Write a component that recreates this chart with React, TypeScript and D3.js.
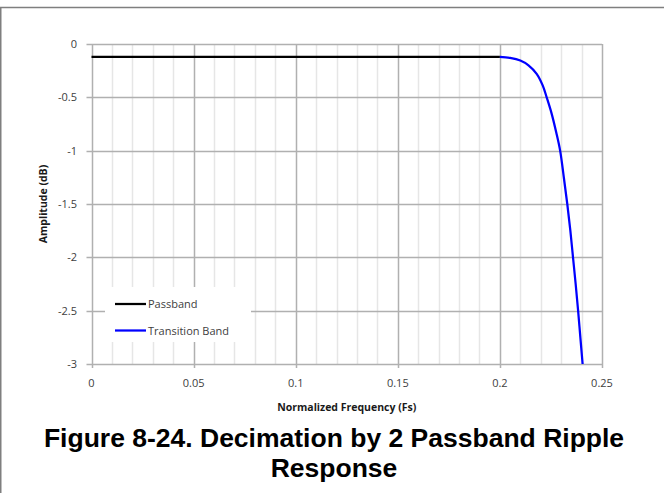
import React from "react";
import * as d3 from "d3";

const passbandFreq = [0, 0.05, 0.1, 0.15, 0.2];
const passbandDb = [-0.12, -0.12, -0.12, -0.12, -0.12];

const transitionFreq = [0.2, 0.205, 0.21, 0.214, 0.218, 0.221, 0.2229, 0.2253, 0.2276, 0.2295, 0.2313, 0.233, 0.2345, 0.2358, 0.2371, 0.2383, 0.2394, 0.2405];
const transitionDb = [-0.12, -0.13, -0.155, -0.2, -0.28, -0.39, -0.5, -0.65, -0.83, -1.0, -1.25, -1.5, -1.75, -2.0, -2.25, -2.5, -2.75, -3.0];

const xTicks = [0, 0.05, 0.1, 0.15, 0.2, 0.25];
const xTickLabels = ["0", "0.05", "0.1", "0.15", "0.2", "0.25"];
const yTicks = [0, -0.5, -1, -1.5, -2, -2.5, -3];
const yTickLabels = ["0", "-0.5", "-1", "-1.5", "-2", "-2.5", "-3"];
const xMinor = [0.01, 0.02, 0.03, 0.04, 0.06, 0.07, 0.08, 0.09, 0.11, 0.12, 0.13, 0.14, 0.16, 0.17, 0.18, 0.19, 0.21, 0.22, 0.23, 0.24];

const seriesNames = ["Passband", "Transition Band"];
const seriesColors = ["#000000", "#0000ff"];

export default function App() {
  const W = 664, H = 493;
  const x = d3.scaleLinear().domain([0, 0.25]).range([91.5, 602]);
  const y = d3.scaleLinear().domain([0, -3]).range([44, 364]);
  const line = d3.line<[number, number]>().x(d => x(d[0])).y(d => y(d[1]));
  const lineT = d3.line<[number, number]>().x(d => x(d[0])).y(d => y(d[1])).curve(d3.curveCatmullRom.alpha(0.5));
  const pb: [number, number][] = passbandFreq.map((f, i) => [f, passbandDb[i]]);
  const tb: [number, number][] = transitionFreq.map((f, i) => [f, transitionDb[i]]);
  const major = "#b0b0b0";
  const minor = "#e6e6e6";
  const tickFont = "'Open Sans', sans-serif";
  const [x0, x1] = x.range();
  const [y0, y1] = y.range();
  return (
    <svg width={W} height={H} style={{ position: "absolute", left: 0, top: 0, display: "block", background: "#fff" }}>
      <rect x={0} y={0} width={W} height={H} fill="#fff" />
      {/* outer frame */}
      <line x1={0} x2={W} y1={7.5} y2={7.5} stroke="#7f7f7f" strokeWidth={1.5} />
      <line x1={0.75} x2={0.75} y1={7} y2={H} stroke="#7f7f7f" strokeWidth={1.5} />
      {/* minor gridlines */}
      {xMinor.map(v => (
        <line key={"mn" + v} x1={Math.round(x(v)) + 0.5} x2={Math.round(x(v)) + 0.5} y1={y0} y2={y1} stroke={minor} strokeWidth={1.5} />
      ))}
      {/* major gridlines */}
      {xTicks.map(v => (
        <line key={"mx" + v} x1={Math.round(x(v)) + 0.5} x2={Math.round(x(v)) + 0.5} y1={y0} y2={y1 + 4} stroke={major} strokeWidth={1.5} />
      ))}
      {yTicks.map(v => (
        <line key={"my" + v} x1={x0 - 5} x2={x1} y1={Math.round(y(v)) + 0.5} y2={Math.round(y(v)) + 0.5} stroke={major} strokeWidth={1.5} />
      ))}
      {/* legend background */}
      <rect x={105} y={287} width={146} height={55} fill="#fff" />
      {/* series */}
      <path d={line(pb) || ""} fill="none" stroke={seriesColors[0]} strokeWidth={2.25} />
      <path d={lineT(tb) || ""} fill="none" stroke={seriesColors[1]} strokeWidth={2.25} />
      {/* y tick labels */}
      {yTicks.map((v, i) => (
        <text key={"yl" + v} x={77} y={y(v) + 4} textAnchor="end" fontFamily={tickFont} fontSize={11} fill="#404040">{yTickLabels[i]}</text>
      ))}
      {/* x tick labels */}
      {xTicks.map((v, i) => (
        <text key={"xl" + v} x={x(v)} y={387} textAnchor="middle" fontFamily={tickFont} fontSize={11} fill="#404040">{xTickLabels[i]}</text>
      ))}
      {/* axis titles */}
      <text x={(x0 + x1) / 2} y={411} textAnchor="middle" fontFamily={tickFont} fontWeight="bold" fontSize={10.5} fill="#1a1a1a">Normalized Frequency (Fs)</text>
      <text transform={`translate(47,${(y0 + y1) / 2}) rotate(-90)`} textAnchor="middle" fontFamily={tickFont} fontWeight="bold" fontSize={10.5} fill="#1a1a1a">Amplitude (dB)</text>
      {/* legend */}
      {seriesNames.map((n, i) => (
        <g key={n}>
          <line x1={115} x2={146} y1={304 + i * 26.5} y2={304 + i * 26.5} stroke={seriesColors[i]} strokeWidth={2.25} />
          <text x={148} y={308 + i * 26.5} fontFamily={tickFont} fontSize={11} fill="#404040">{n}</text>
        </g>
      ))}
      {/* caption */}
      <text x={334} y={447} textAnchor="middle" fontFamily="'Liberation Sans', Arial, sans-serif" fontWeight="bold" fontSize={26.5} fill="#000">Figure 8-24. Decimation by 2 Passband Ripple</text>
      <text x={334} y={477} textAnchor="middle" fontFamily="'Liberation Sans', Arial, sans-serif" fontWeight="bold" fontSize={26.5} fill="#000">Response</text>
    </svg>
  );
}
